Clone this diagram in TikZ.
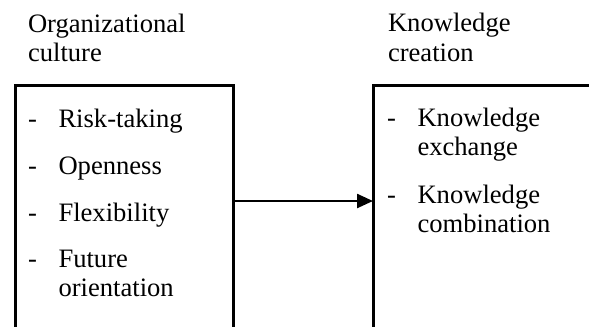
\documentclass[tikz,border=0pt]{standalone}
\usepackage{fontspec}
\setmainfont{Liberation Serif}
\usetikzlibrary{arrows.meta}
\begin{document}
\begin{tikzpicture}[x=1bp,y=-1bp,
  txt/.style={anchor=base west, inner sep=0pt, outer sep=0pt, align=left,
    font=\fontsize{26.6bp}{29.5bp}\selectfont},
  frame/.style={draw, line width=3bp, rectangle, inner sep=0pt,
    outer sep=0pt, anchor=north west},
  link/.style={line width=2.4bp, -{Triangle[length=16bp,width=14bp]}}]
\useasboundingbox (0,0) rectangle (589,326);
\clip (0,0) rectangle (589,326);

% the two boxes run past the lower (and right) edge
\node[frame, minimum width=218bp, minimum height=260bp] (culture) at (15,85) {};
\node[frame, minimum width=250bp, minimum height=260bp] (creation) at (373,85) {};

% headings (a multi-line node sits on the baseline of its last line)
\node[txt] (hculture) at (28,61.5) {Organizational\\culture};
\node[txt] (hcreation) at (388,61) {Knowledge\\creation};

% items of organizational culture
\node[txt] (d1) at (28,127) {-};
\node[txt] (i1) at (58.5,127) {Risk-taking};
\node[txt] (d2) at (28,174) {-};
\node[txt] (i2) at (58.5,174) {Openness};
\node[txt] (d3) at (28,221) {-};
\node[txt] (i3) at (58.5,221) {Flexibility};
\node[txt] (d4) at (28,267) {-};
\node[txt] (i4) at (58.5,296.5) {Future\\orientation};

% items of knowledge creation
\node[txt] (d5) at (387,126) {-};
\node[txt] (i5) at (417.5,155.5) {Knowledge\\exchange};
\node[txt] (d6) at (387,203) {-};
\node[txt] (i6) at (417.5,232.5) {Knowledge\\combination};

% influence arrow
\draw[link] (culture.east |- 0,201) -- (creation.west |- 0,201);
\end{tikzpicture}
\end{document}
